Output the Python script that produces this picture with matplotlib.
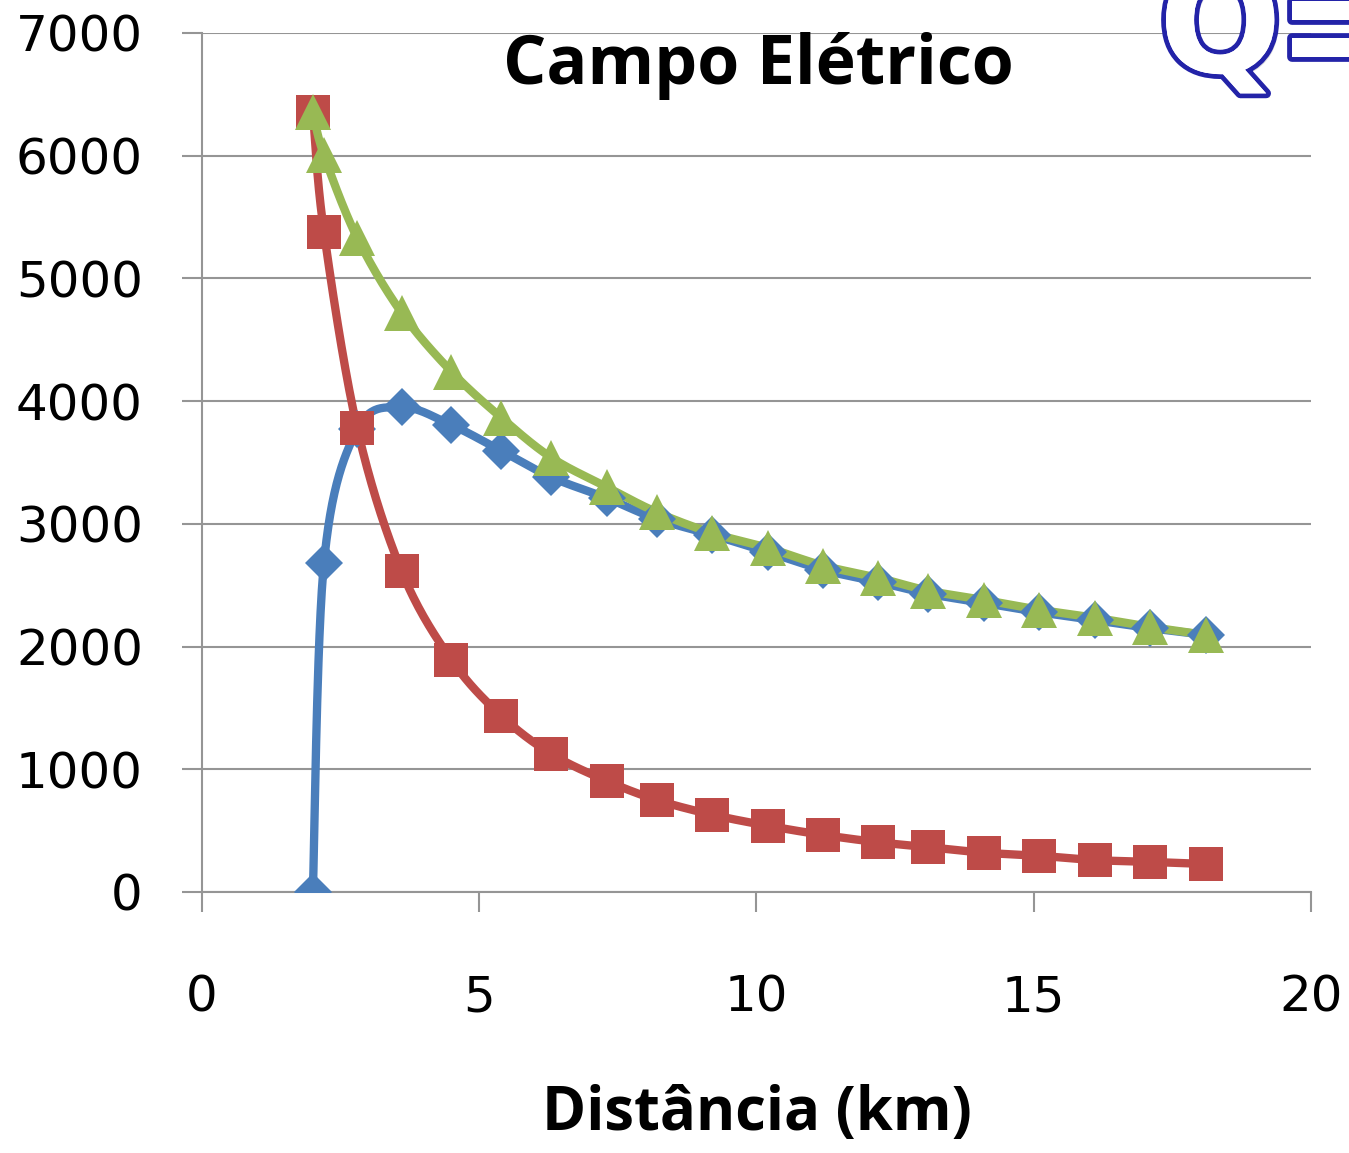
import numpy as np
import matplotlib.pyplot as plt
import matplotlib.patheffects as pe

# distance (km)
dist = [2.0, 2.2, 2.8, 3.6, 4.5, 5.4, 6.3, 7.3, 8.2, 9.2, 10.2,
        11.2, 12.2, 13.1, 14.1, 15.1, 16.1, 17.1, 18.1]

# electric field series
blue = [0, 2680, 3770, 3950, 3805, 3595, 3380, 3210, 3040, 2910, 2770,
        2625, 2525, 2430, 2355, 2280, 2215, 2150, 2095]
red = [6360, 5380, 3780, 2615, 1890, 1435, 1125, 905, 750, 630, 540,
       465, 405, 365, 320, 295, 260, 245, 228]
green = [6355, 6005, 5330, 4720, 4240, 3865, 3540, 3300, 3095, 2925, 2805,
         2660, 2560, 2455, 2380, 2300, 2235, 2160, 2095]


def smooth(x, y, n=30):
    # Catmull-Rom curve through the points (like Excel's smoothed lines)
    x = np.asarray(x, float)
    y = np.asarray(y, float)
    px = np.concatenate([[x[0]], x, [x[-1]]])
    py = np.concatenate([[y[0]], y, [y[-1]]])
    xs, ys = [], []
    t = np.linspace(0, 1, n)
    for i in range(1, len(px) - 2):
        for p, out in ((px, xs), (py, ys)):
            p0, p1, p2, p3 = p[i - 1], p[i], p[i + 1], p[i + 2]
            c1 = p1 + (p2 - p0) / 6
            c2 = p2 - (p3 - p1) / 6
            out.extend((1 - t) ** 3 * p1 + 3 * (1 - t) ** 2 * t * c1
                       + 3 * (1 - t) * t ** 2 * c2 + t ** 3 * p2)
    return xs, ys


fig = plt.figure(figsize=(13.49, 11.53), dpi=100)
ax = fig.add_axes([0.1497, 0.2264, 0.8221, 0.745])

series = [
    (blue, "#4A7EBB", "D", 19),
    (red, "#BE4B48", "s", 24),
    (green, "#98B954", "^", 26),
]
for vals, col, mk, ms in series:
    sx, sy = smooth(dist, vals)
    ax.plot(sx, sy, color=col, lw=6, solid_capstyle="round", zorder=3)
    ax.plot(dist, vals, ls="none", marker=mk, ms=ms, color=col,
            markeredgewidth=0, zorder=4)

ax.set_xlim(0, 20)
ax.set_ylim(0, 7000)
ax.set_xticks([0, 5, 10, 15, 20])
ax.set_yticks(range(0, 7001, 1000))
ax.grid(axis="y", color="#959595", lw=1.5)
ax.set_axisbelow(True)
for s in ["top", "right"]:
    ax.spines[s].set_visible(False)
for s in ["left", "bottom"]:
    ax.spines[s].set_color("#959595")
    ax.spines[s].set_linewidth(1.5)
ax.tick_params(axis="both", length=14.5, width=1.5, color="#959595",
               labelsize=36)
ax.tick_params(axis="y", pad=28)
ax.tick_params(axis="x", pad=44)
for lab in ax.get_xticklabels() + ax.get_yticklabels():
    lab.set_fontfamily("DejaVu Sans")

fig.text(0.562, 0.943, "Campo Elétrico", ha="center", va="center",
         fontsize=49, fontweight="bold", family="Open Sans")
fig.text(0.561, 0.033, "Distância (km)", ha="center", va="center",
         fontsize=43, fontweight="bold", family="Open Sans")

# logo in the corner
logo_fx = [pe.SimplePatchShadow(offset=(3, -3), shadow_rgbFace="#999999"),
           pe.withStroke(linewidth=7, foreground="#2323a8"),
           pe.Normal()]
fig.text(0.859, 0.972, "Q", ha="left", va="center", fontsize=104,
         fontweight="bold", family="DejaVu Sans", color="white",
         path_effects=logo_fx)
fig.text(0.945, 0.97, "=", ha="left", va="center", fontsize=120,
         fontweight="bold", family="DejaVu Sans", color="white",
         path_effects=logo_fx)

fig.savefig("out.png", dpi=100)
